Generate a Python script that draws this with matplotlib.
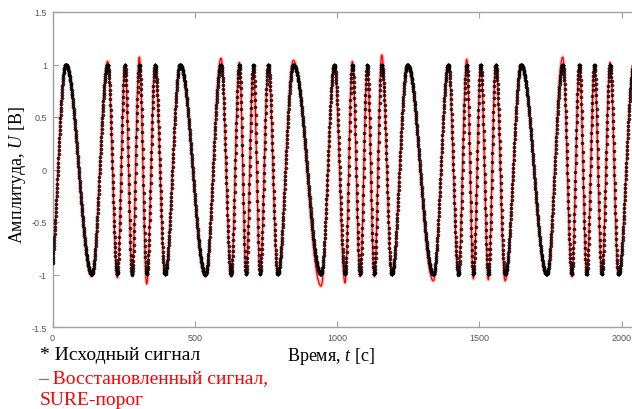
import numpy as np
import matplotlib.pyplot as plt

# ---------------------------------------------------------------
# Values: time of every peak / trough of the
# signal and the level it reaches there (original and restored)
# ---------------------------------------------------------------
ext_t = [-8.1, 46.4, 137.7, 194.0, 227.7, 254.7, 279.3, 305.0, 331.0, 360.2,
         395.3, 448.0, 536.9, 592.1, 627.2, 656.4, 679.9, 705.6, 729.1, 758.3,
         791.3, 846.1, 943.4, 990.2, 1027.8, 1053.4, 1080.5, 1106.1, 1130.7, 1156.7,
         1191.9, 1246.7, 1338.0, 1390.7, 1425.9, 1455.4, 1478.6, 1504.6, 1531.3, 1557.3,
         1590.0, 1646.2, 1736.5, 1792.7, 1824.3, 1851.1, 1877.1, 1903.8, 1929.8, 1959.0,
         1988.1, 2043.0]

orig_ext = [-1, 1, -1, 1, -1, 1, -1, 1, -1, 1,
            -1, 1, -1, 1, -1, 1, -1, 1, -1, 1,
            -1, 1, -1, 1, -1, 1, -1, 1, -1, 1,
            -1, 1, -1, 1, -1, 1, -1, 1, -1, 1,
            -1, 1, -1, 1, -1, 1, -1, 1, -1, 1,
            -1, 1]

rec_ext = [-1.0, 1.0, -1.02, 1.03, -1.03, 1.0, -1.0, 1.07, -1.09, 1.0,
           -1.0, 1.0, -1.02, 1.06, -1.02, 1.02, -0.98, 0.98, -1.0, 1.0,
           -1.0, 1.04, -1.11, 0.98, -1.08, 1.03, -1.02, 0.97, -1.02, 1.09,
           -1.0, 1.0, -1.06, 1.0, -1.0, 1.05, -1.04, 1.0, -1.05, 1.0,
           -1.06, 1.0, -1.0, 1.07, -1.02, 1.0, -1.0, 0.97, -1.0, 1.02,
           -1.0, 1.0]

x_ticks = [0, 500, 1000, 1500, 2000]
y_ticks = [-1.5, -1, -0.5, 0, 0.5, 1, 1.5]
y_tick_labels = ['-1.5', '-1', '-0.5', '0', '0.5', '1', '1.5']


def arcs(tn, vn, t):
    # smooth half-cosine between neighbouring extrema
    tn = np.asarray(tn, float)
    vn = np.asarray(vn, float)
    i = np.clip(np.searchsorted(tn, t) - 1, 0, len(tn) - 2)
    ph = (t - tn[i]) / (tn[i + 1] - tn[i])
    return vn[i + 1] + (vn[i] - vn[i + 1]) * (1 + np.cos(np.pi * ph)) / 2


t_line = np.arange(0, 2048, 0.25)
t_mark = np.arange(0, 2048, 0.7)
orig = arcs(ext_t, orig_ext, t_mark)
rec = arcs(ext_t, rec_ext, t_line)

plt.rcParams['mathtext.fontset'] = 'custom'
plt.rcParams['mathtext.rm'] = 'Liberation Serif'
plt.rcParams['mathtext.it'] = 'Liberation Serif:italic'

fig = plt.figure(figsize=(6.32, 4.10), dpi=100)
ax = fig.add_axes([52.5 / 632, 1 - 328 / 410, (635.4 - 52.5) / 632, 315 / 410])

ax.plot(t_line, rec, color='red', lw=2.6, alpha=0.25, zorder=2)
ax.plot(t_line, rec, color='red', lw=0.9, zorder=2)
ax.plot(t_mark, orig, ls='none', marker=(8, 2, 0), ms=2.6, mew=0.45, color='black',
        alpha=0.75, zorder=3)

ax.set_xlim(0, 2048)
ax.set_ylim(-1.5, 1.5)
ax.set_xticks(x_ticks)
ax.set_yticks(y_ticks)
ax.set_yticklabels(y_tick_labels)

gray = '#a0a0a0'
for side in ['left', 'top', 'bottom', 'right']:
    ax.spines[side].set_color(gray)
    ax.spines[side].set_linewidth(1.0)
ax.tick_params(direction='in', length=4, width=0.8, color=gray, top=True,
               labelsize=6.5, labelcolor='#555555', pad=4)
for lab in ax.get_xticklabels() + ax.get_yticklabels():
    lab.set_family('Liberation Sans')

serif = 'Liberation Serif'
fig.text(18 / 632, 1 - 175 / 410, 'Амплитуда, $U$ [В]', rotation=90, ha='center', va='center',
         fontsize=13, family=serif)
fig.text(331 / 632, 1 - 357 / 410, 'Время, $t$ [с]', ha='center', va='center',
         fontsize=13, family=serif)

fig.text(40 / 632, 1 - 356 / 410, '* Исходный сигнал', ha='left', va='center',
         fontsize=14, family=serif, color='black')
fig.text(38 / 632, 1 - 379 / 410, '– Восстановленный сигнал,', ha='left', va='center',
         fontsize=14, family=serif, color='red')
fig.text(40 / 632, 1 - 401 / 410, 'SURE-порог', ha='left', va='center',
         fontsize=14, family=serif, color='red')

fig.savefig('out.png', dpi=100)
